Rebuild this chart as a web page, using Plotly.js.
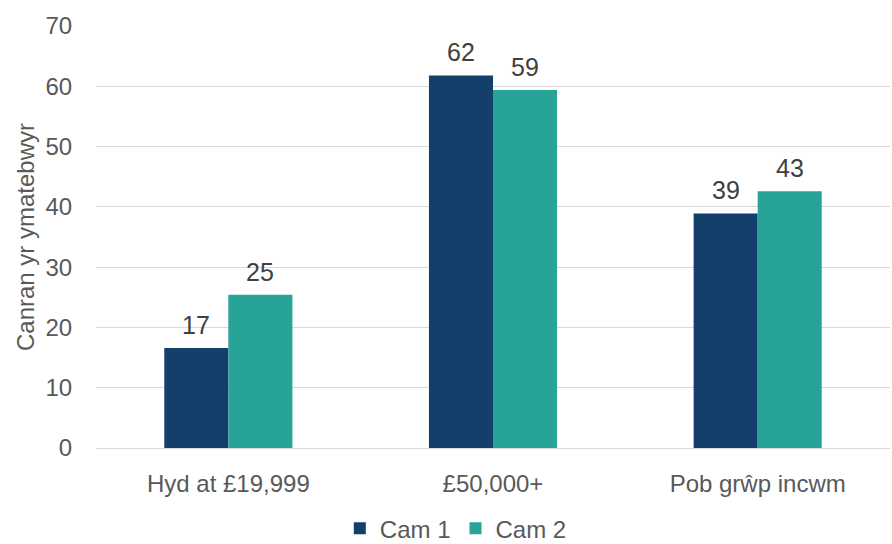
<!DOCTYPE html>
<html>
<head>
<meta charset="utf-8">
<script src="https://cdn.plot.ly/plotly-3.0.1.min.js"></script>
<style>html,body{margin:0;padding:0;background:#fff;}#chart{width:892px;height:544px;}</style>
</head>
<body>
<div id="chart"></div>
<script>
var categories = ["Hyd at £19,999", "£50,000+", "Pob grŵp incwm"];
var cam1 = [16.6, 61.8, 38.9];
var cam2 = [25.4, 59.4, 42.6];
var seriesNames = ["Cam 1", "Cam 2"];
var yTitle = "Canran yr ymatebwyr";

var font = "Liberation Sans, Arial, sans-serif";
var W = 892, H = 544, ml = 96, mr = 2, mt = 26, mb = 96;
var bargap = 0.516;
var barPx = (W - ml - mr) / categories.length * (1 - bargap) / 2;

var traces = [
  {type:'bar', name: seriesNames[0], x: categories, y: cam1, marker:{color:'#133f6a'}},
  {type:'bar', name: seriesNames[1], x: categories, y: cam2, marker:{color:'#28a397'}}
];
var annotations = [];
[cam1, cam2].forEach(function(series, s){
  series.forEach(function(v, i){
    annotations.push({x: categories[i], y: v, xref:'x', yref:'y', text: String(Math.round(v)),
      showarrow:false, yanchor:'bottom', xanchor:'center',
      xshift: (s === 0 ? -1 : 1) * barPx / 2, yshift: 7,
      font:{family:font, size:25, color:'#404040'}});
  });
});
var layout = {
  width:W, height:H,
  margin:{l:ml, r:mr, t:mt, b:mb, autoexpand:false},
  paper_bgcolor:'#fff', plot_bgcolor:'#fff',
  font:{family:font, color:'#595959', size:24},
  barmode:'group', bargap:bargap, bargroupgap:0,
  annotations: annotations,
  xaxis:{tickfont:{size:24, color:'#595959'}, ticks:'outside', ticklen:14, tickcolor:'rgba(0,0,0,0)',
         showline:true, linecolor:'#d9d9d9', linewidth:1, automargin:false},
  yaxis:{range:[0,70], dtick:10, tickfont:{size:24, color:'#595959'},
         gridcolor:'#d9d9d9', gridwidth:1, zeroline:false, automargin:false,
         ticks:'outside', ticklen:18, tickcolor:'rgba(0,0,0,0)',
         title:{text:yTitle, font:{size:24, color:'#595959'}, standoff:4}},
  legend:{orientation:'h', xref:'container', yref:'container', x:0.511, xanchor:'center',
          y:0.028, yanchor:'middle', itemwidth:30,
          font:{size:24, color:'#595959'}, traceorder:'normal'},
  showlegend:true
};
Plotly.newPlot('chart', traces, layout, {displayModeBar:false, staticPlot:true});
</script>
</body>
</html>
